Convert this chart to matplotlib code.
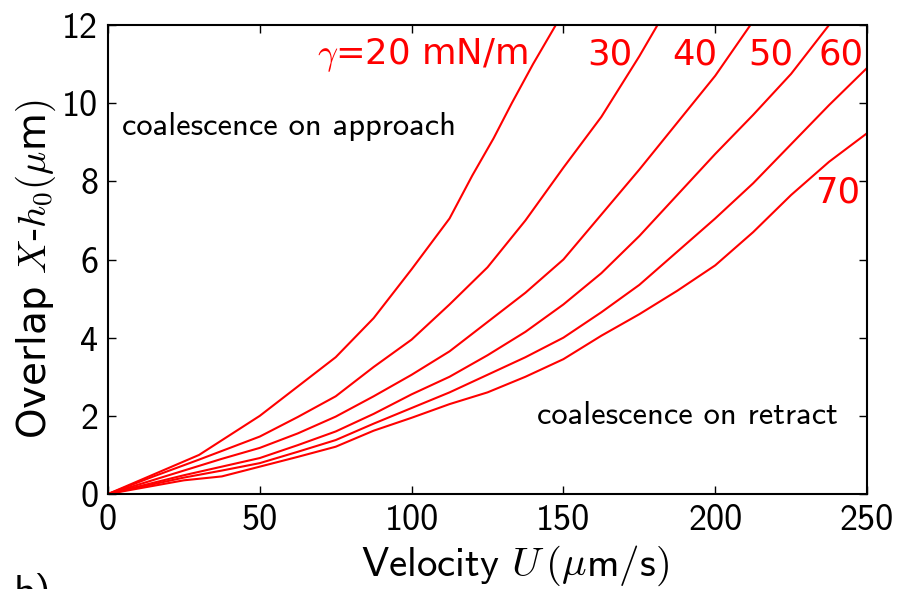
import matplotlib
matplotlib.use("Agg")
import matplotlib.pyplot as plt
import numpy as np

plt.rcParams['font.family'] = ['cmss10', 'DejaVu Sans']
plt.rcParams['mathtext.fontset'] = 'cm'
plt.rcParams['axes.unicode_minus'] = False

# overlap X-h0 (um) vs velocity U (um/s), one curve per surface tension
u_20 = [0, 15, 30, 50, 62.5, 75, 87.5, 100, 112.5, 120, 127, 133, 140, 147.5, 150]
x_20 = [0, 0.5, 1.0, 2.0, 2.75, 3.5, 4.5, 5.75, 7.05, 8.15, 9.1, 10.0, 11.0, 12.0, 12.4]

u_30 = [0, 15, 30, 50, 62.5, 75, 87.5, 100, 112.5, 125, 137.5, 150, 162.5, 175, 181, 185]
x_30 = [0, 0.45, 0.88, 1.47, 1.97, 2.5, 3.25, 3.95, 4.85, 5.8, 7.0, 8.35, 9.65, 11.2, 12.0, 12.6]

u_40 = [0, 25, 37.5, 50, 62.5, 75, 87.5, 100, 112.5, 125, 137.5, 150, 162.5, 175, 187.5, 200, 212.5]
x_40 = [0, 0.6, 0.9, 1.18, 1.55, 1.98, 2.5, 3.05, 3.65, 4.4, 5.15, 6.0, 7.15, 8.3, 9.5, 10.7, 12.1]

u_50 = [0, 25, 37.5, 50, 62.5, 75, 87.5, 100, 112.5, 125, 137.5, 150, 162.5, 175, 187.5, 200, 212.5, 225, 237.5]
x_50 = [0, 0.48, 0.7, 0.92, 1.25, 1.6, 2.05, 2.55, 3.0, 3.55, 4.15, 4.85, 5.65, 6.6, 7.65, 8.7, 9.7, 10.75, 12.0]

u_60 = [0, 25, 37.5, 50, 62.5, 75, 87.5, 100, 112.5, 125, 137.5, 150, 162.5, 175, 187.5, 200, 212.5, 225, 237.5, 250]
x_60 = [0, 0.42, 0.6, 0.79, 1.08, 1.38, 1.8, 2.2, 2.6, 3.05, 3.5, 4.0, 4.65, 5.35, 6.2, 7.05, 7.95, 8.95, 9.95, 10.9]

u_70 = [0, 25, 37.5, 50, 62.5, 75, 87.5, 100, 112.5, 125, 137.5, 150, 162.5, 175, 187.5, 200, 212.5, 225, 237.5, 250]
x_70 = [0, 0.35, 0.45, 0.7, 0.95, 1.21, 1.62, 1.95, 2.3, 2.6, 3.0, 3.45, 4.05, 4.6, 5.2, 5.85, 6.7, 7.65, 8.5, 9.23]

curves = [(u_20, x_20), (u_30, x_30), (u_40, x_40), (u_50, x_50), (u_60, x_60), (u_70, x_70)]

# curve labels: text, x, y
label_text = [r'$\gamma$=20 mN/m', '30', '40', '50', '60', '70']
label_x = [69, 158, 186, 211, 234, 233]
label_y = [11.0, 11.0, 11.0, 11.0, 11.0, 7.45]

fig = plt.figure(figsize=(9.06, 5.89), dpi=100)
ax = fig.add_axes([108/906, 1 - 494/589, (867 - 108)/906, (494 - 25)/589])

for u, x in curves:
    ax.plot(u, x, color='red', lw=1.5)

for t, lx, ly in zip(label_text, label_x, label_y):
    ax.text(lx, ly, t, color='red', fontsize=25.5, family=['DejaVu Sans'],
            ha='left', va='baseline')

ax.text(4.6, 9.19, 'coalescence on approach', fontsize=23.4, ha='left', va='baseline')
ax.text(240.5, 1.79, 'coalescence on retract', fontsize=23.4, ha='right', va='baseline')

ax.set_xlim(0, 250)
ax.set_ylim(0, 12)
ax.set_xticks([0, 50, 100, 150, 200, 250])
ax.set_yticks([0, 2, 4, 6, 8, 10, 12])
ax.tick_params(direction='in', length=6, width=1, top=True, right=True,
               labelsize=26, pad=7)
for s in ax.spines.values():
    s.set_linewidth(1.5)

ax.set_xlabel(r'Velocity $U\,(\mu$m$/$s$)$', fontsize=29.5, labelpad=5)
ax.xaxis.label.set_x(0.536)
ax.set_ylabel(r'Overlap $X$-$h_0(\mu$m$)$', fontsize=28, labelpad=3,
              family=['DejaVu Sans'])
ax.yaxis.label.set_y(0.479)

fig.text(0.015, -0.025, 'b)', fontsize=30, fontweight='bold', ha='left', va='baseline')

fig.savefig('out.png', dpi=100)
